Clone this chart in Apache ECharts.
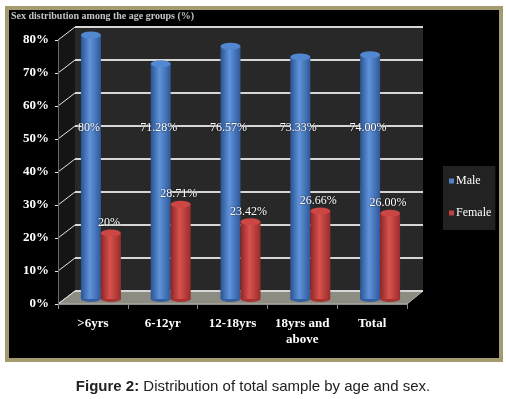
<!DOCTYPE html>
<html>
<head>
<meta charset="utf-8">
<script src="https://cdn.jsdelivr.net/npm/echarts@6/dist/echarts.min.js"></script>
<style>
  html, body { margin: 0; padding: 0; background: #fff; }
  #chart { width: 506px; height: 399px; }
</style>
</head>
<body>
<div id="chart"></div>
<script>
const categories = ['>6yrs', '6-12yr', '12-18yrs', '18yrs and\nabove', 'Total']
const maleValues = [80, 71.28, 76.57, 73.33, 74.0]
const femaleValues = [20, 28.71, 23.42, 26.66, 26.0]
const maleLabels = ['80%', '71.28%', '76.57%', '73.33%', '74.00%']
const femaleLabels = ['20%', '28.71%', '23.42%', '26.66%', '26.00%']
const yMax = 80
const yStep = 10

// fake 3d: back wall, middle (bars) and front plane
const front = { left: 58, top: 40, width: 349, height: 264 }
const back = { left: 75, top: 27, width: 348, height: 264 }
const mid = { left: 66, top: 35, width: 349, height: 264 }
const pxPerUnit = mid.height / yMax
const maleLabelY = 129

const serif = '"Liberation Serif", "Times New Roman", serif'
const white = '#ffffff'

const blueSide = {
  type: 'linear', x: 0, y: 0, x2: 1, y2: 0,
  colorStops: [
    { offset: 0, color: '#2b5391' },
    { offset: 0.45, color: '#5f93da' },
    { offset: 1, color: '#2e5898' },
  ],
}
const redSide = {
  type: 'linear', x: 0, y: 0, x2: 1, y2: 0,
  colorStops: [
    { offset: 0, color: '#8c2626' },
    { offset: 0.45, color: '#d8524d' },
    { offset: 1, color: '#992c2a' },
  ],
}

function gridOf(g) {
  return { left: g.left, top: g.top, width: g.width, height: g.height, show: false, outerBoundsMode: 'none' }
}

const hiddenX = (gi) => ({ type: 'category', gridIndex: gi, data: categories, show: false })
const hiddenY = (gi) => ({ type: 'value', gridIndex: gi, min: 0, max: yMax, interval: yStep, show: false })

// decorations
const frontBase = front.top + front.height
const backBase = back.top + back.height
const levels = []
for (let v = 0; v <= yMax; v += yStep) levels.push(v)
const diagTicks = levels.map((v) => ({
  type: 'line',
  z: -1,
  shape: {
    x1: front.left, y1: frontBase - v * pxPerUnit,
    x2: back.left, y2: backBase - v * pxPerUnit,
  },
  style: { stroke: '#e8e8e8', lineWidth: 1 },
}))

const chart = echarts.init(document.getElementById('chart'), null, { renderer: 'canvas' })

chart.setOption({
  backgroundColor: '#ffffff',
  animation: false,
  title: {
    text: '{b|Figure 2:} Distribution of total sample by age and sex.',
    left: 'center',
    top: 374,
    textStyle: {
      fontFamily: '"Liberation Sans", Arial, sans-serif',
      fontSize: 15,
      fontWeight: 'normal',
      color: '#222',
      rich: { b: { fontFamily: '"Liberation Sans", Arial, sans-serif', fontSize: 15, fontWeight: 'bold', color: '#222' } },
    },
  },
  legend: {
    orient: 'vertical',
    left: 443,
    top: 166,
    padding: [9, 4, 11, 6],
    backgroundColor: '#222222',
    itemWidth: 5,
    itemHeight: 5,
    itemGap: 20,
    icon: 'rect',
    textStyle: { color: white, fontFamily: serif, fontSize: 12, padding: [0, 0, 0, -3] },
    data: [
      { name: 'Male', itemStyle: { color: '#4f81c8' } },
      { name: 'Female', itemStyle: { color: '#c0413d' } },
    ],
  },
  graphic: [
    {
      type: 'rect', z: -3,
      shape: { x: 7, y: 8, width: 494, height: 352 },
      style: { fill: '#000', stroke: '#a49c6f', lineWidth: 4 },
    },
    {
      type: 'text', z: -1, left: 11, top: 11,
      style: { text: 'Sex distribution among the age groups (%)', fill: '#c4c4c4', font: 'bold 10px ' + serif },
    },
    {
      type: 'rect', z: -2,
      shape: { x: back.left, y: back.top, width: back.width, height: back.height },
      style: { fill: '#282828' },
    },
    {
      type: 'polygon', z: -2,
      shape: { points: [[front.left, front.top], [back.left, back.top], [back.left, backBase], [front.left, frontBase]] },
      style: { fill: '#151515' },
    },
    {
      type: 'polygon', z: -1,
      shape: {
        points: [
          [front.left, frontBase], [back.left, backBase],
          [back.left + back.width, backBase], [front.left + front.width, frontBase],
        ],
      },
      style: { fill: '#8d8c82', stroke: '#b5b4aa', lineWidth: 1 },
    },
    ...diagTicks,
  ],
  grid: [gridOf(back), gridOf(front), gridOf(mid)],
  xAxis: [
    hiddenX(0),
    {
      type: 'category',
      gridIndex: 1,
      data: categories,
      axisLine: { show: true, lineStyle: { color: '#8a8a8a', width: 1 } },
      axisTick: { show: true, length: 5, lineStyle: { color: '#8a8a8a' } },
      axisLabel: {
        interval: 0, color: white, fontFamily: serif, fontWeight: 'bold',
        fontSize: 13, margin: 12, lineHeight: 16,
      },
    },
    hiddenX(2),
  ],
  yAxis: [
    {
      type: 'value', gridIndex: 0, min: 0, max: yMax, interval: yStep,
      axisLine: { show: false }, axisTick: { show: false }, axisLabel: { show: false },
      splitLine: { show: true, lineStyle: { color: '#d6d6d6', width: 2 } },
    },
    {
      type: 'value', gridIndex: 1, min: 0, max: yMax, interval: yStep,
      axisLine: { show: true, lineStyle: { color: '#6a6a6a' } },
      axisTick: { show: true, length: 3, lineStyle: { color: '#e8e8e8' } },
      splitLine: { show: false },
      axisLabel: {
        formatter: '{value}%', color: white, fontFamily: serif, fontWeight: 'bold',
        fontSize: 13, margin: 9,
      },
    },
    hiddenY(2),
  ],
  series: [
    {
      name: 'Male bottom', type: 'pictorialBar', xAxisIndex: 2, yAxisIndex: 2, z: 1,
      symbol: 'circle', symbolSize: [20, 6], symbolPosition: 'start', symbolOffset: [-10, '50%'],
      itemStyle: { color: '#34609f' }, data: maleValues, silent: true,
    },
    {
      name: 'Female bottom', type: 'pictorialBar', xAxisIndex: 2, yAxisIndex: 2, z: 1,
      symbol: 'circle', symbolSize: [20, 6], symbolPosition: 'start', symbolOffset: [10, '50%'],
      itemStyle: { color: '#a8322f' }, data: femaleValues, silent: true,
    },
    {
      name: 'Male',
      type: 'bar', xAxisIndex: 2, yAxisIndex: 2,
      barWidth: 20, barGap: '0%',
      itemStyle: { color: blueSide },
      data: maleValues.map((v) => ({
        value: v,
        label: { offset: [-2, maleLabelY - 7 - (mid.top + mid.height - v * pxPerUnit)] },
      })),
      label: {
        show: true, position: 'insideTop', distance: 0,
        formatter: (p) => maleLabels[p.dataIndex],
        color: white, fontFamily: serif, fontSize: 12,
        textShadowColor: 'rgba(0,0,0,0.8)', textShadowBlur: 2,
      },
    },
    {
      name: 'Female',
      type: 'bar', xAxisIndex: 2, yAxisIndex: 2,
      barWidth: 20, barGap: '0%',
      itemStyle: { color: redSide },
      data: femaleValues,
      label: {
        show: true, position: 'top', distance: 4, offset: [-2, 0],
        formatter: (p) => femaleLabels[p.dataIndex],
        color: white, fontFamily: serif, fontSize: 12,
        textShadowColor: 'rgba(0,0,0,0.8)', textShadowBlur: 2,
      },
    },
    {
      name: 'Male top', type: 'pictorialBar', xAxisIndex: 2, yAxisIndex: 2, z: 3,
      symbol: 'circle', symbolSize: [20, 7], symbolPosition: 'end', symbolOffset: [-10, '-50%'],
      itemStyle: { color: '#5288d2' }, data: maleValues, silent: true,
    },
    {
      name: 'Female top', type: 'pictorialBar', xAxisIndex: 2, yAxisIndex: 2, z: 3,
      symbol: 'circle', symbolSize: [20, 7], symbolPosition: 'end', symbolOffset: [10, '-50%'],
      itemStyle: { color: '#cc4743' }, data: femaleValues, silent: true,
    },
  ],
})

window.addEventListener('resize', () => chart.resize())
</script>
</body>
</html>
